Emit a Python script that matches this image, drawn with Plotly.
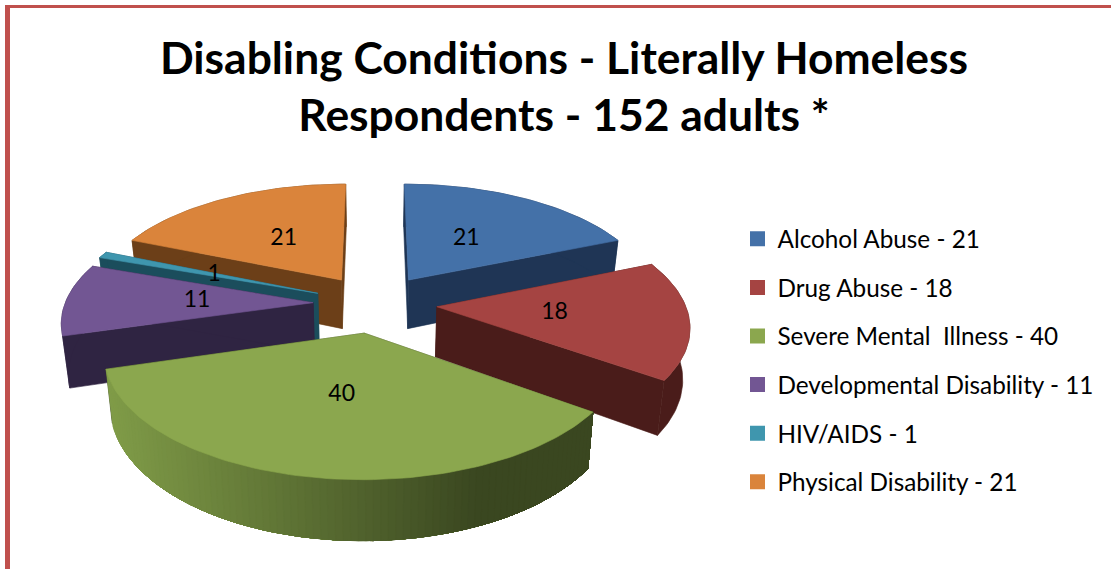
import numpy as np
import plotly.graph_objects as go

categories = ["Alcohol Abuse", "Drug Abuse", "Severe Mental\u00a0 Illness",
              "Developmental Disability", "HIV/AIDS", "Physical Disability"]
values = [21, 18, 40, 11, 1, 21]
top_colors = ["#4471A8", "#A54442", "#8BA74E", "#725693", "#3F96AE", "#DA843B"]
wall_colors = ["#1F3555", "#4A1C1A", "#3A4720", "#2F2442", "#1B4D5C", "#6C3F18"]
title_lines = ["Disabling Conditions - Literally Homeless", "Respondents - 152 adults *"]

# projection of the tilted pie onto the page (pixel-sized axes)
CX, CY = 375.0, 303.5
R, A, K = 248.0, 116.0, 0.144
EXPLODE, DEPTH, SHRINK = 0.25, 50.0, 0.977
LABEL_POS = 0.47
DRAW_ORDER = [5, 0, 4, 3, 1, 2]
GRADIENT_SLICE = 2


def project(U, W, low=False):
    s = 1 / (1 - K * W)
    x = CX + R * U * s
    y = CY + A * W * s
    if low:
        x = CX + (x - CX) * SHRINK
        y = y + DEPTH * s
    return x, y


def hexmix(c1, c2, t):
    a = [int(c1[i:i + 2], 16) for i in (1, 3, 5)]
    b = [int(c2[i:i + 2], 16) for i in (1, 3, 5)]
    return "#" + "".join(f"{int(round(p + (q - p) * t)):02x}" for p, q in zip(a, b))


def poly(xs, ys, color):
    xs, ys = list(xs), list(ys)
    return go.Scatter(x=xs + [xs[0]], y=ys + [ys[0]], mode="lines", fill="toself",
                      fillcolor=color, line=dict(color=color, width=0.6),
                      hoverinfo="skip", showlegend=False)


fig = go.Figure()

for cat, val, col in zip(categories, values, top_colors):
    fig.add_trace(go.Scatter(x=[None], y=[None], mode="markers", name=f"{cat} - {val}",
                             legendgroup=cat, marker=dict(symbol="square", size=15, color=col)))

total = sum(values)
edges = np.concatenate([[0], np.cumsum(values)]) / total * 2 * np.pi
labels = {}

for i in DRAW_ORDER:
    a0, a1 = edges[i], edges[i + 1]
    mid = (a0 + a1) / 2
    eU, eW = EXPLODE * np.sin(mid), -EXPLODE * np.cos(mid)
    th = np.linspace(a0, a1, max(6, int((a1 - a0) * 40)))
    U = eU + np.sin(th)
    W = eW - np.cos(th)
    tx, ty = project(U, W)
    bx, by = project(U, W, low=True)
    tipx, tipy = project(np.array([eU]), np.array([eW]))
    tipbx, tipby = project(np.array([eU]), np.array([eW]), low=True)
    wall = wall_colors[i]
    # flat cut faces
    fig.add_trace(poly([tipx[0], tx[0], bx[0], tipbx[0]], [tipy[0], ty[0], by[0], tipby[0]], wall))
    fig.add_trace(poly([tipx[0], tx[-1], bx[-1], tipbx[0]], [tipy[0], ty[-1], by[-1], tipby[0]], wall))
    # curved outer wall
    if i == GRADIENT_SLICE:
        # overlapping strips, painted left to right so no seams show
        n = len(th)
        for j in range(n - 1, 0, -1):
            t = np.clip((tx[j] - 105) / 370, 0, 1)
            c = hexmix("#809C48", wall, t)
            fig.add_trace(poly(np.r_[tx[:j + 1], bx[:j + 1][::-1]],
                               np.r_[ty[:j + 1], by[:j + 1][::-1]], c))
    else:
        fig.add_trace(poly(np.r_[tx, bx[::-1]], np.r_[ty, by[::-1]], wall))
    # top face
    fig.add_trace(poly(np.r_[tipx, tx], np.r_[tipy, ty], top_colors[i]))
    lx, ly = project(np.array([eU + LABEL_POS * np.sin(mid)]), np.array([eW - LABEL_POS * np.cos(mid)]))
    labels[i] = (lx[0], ly[0])

fig.add_trace(go.Scatter(x=[labels[i][0] for i in range(len(values))],
                         y=[labels[i][1] for i in range(len(values))],
                         text=[str(v) for v in values], mode="text", textposition="middle center",
                         textfont=dict(family="Lato", size=23, color="#000000"),
                         hoverinfo="skip", showlegend=False))

fig.update_layout(
    width=1111, height=569, autosize=False,
    margin=dict(l=0, r=0, t=0, b=0),
    paper_bgcolor="#FFFFFF", plot_bgcolor="#FFFFFF",
    xaxis=dict(range=[0, 1111], visible=False, domain=[0, 1], fixedrange=True),
    yaxis=dict(range=[569, 0], visible=False, domain=[0, 1], fixedrange=True),
    title=dict(text="<br>".join(title_lines), x=564 / 1111, xanchor="center",
               y=1 - 73.5 / 569, yanchor="middle",
               font=dict(family="Lato", size=44.4, color="#000000", weight="bold")),
    legend=dict(x=737.5 / 1111, y=1 - 216.5 / 569, xanchor="left", yanchor="top",
                bgcolor="rgba(0,0,0,0)", font=dict(family="Lato", size=24.3, color="#000000"),
                tracegroupgap=14, itemwidth=30),
    shapes=[
        dict(type="rect", xref="paper", yref="paper", x0=5 / 1111, x1=10 / 1111, y0=0, y1=1 - 5 / 569,
             fillcolor="#C0504D", line_width=0),
        dict(type="rect", xref="paper", yref="paper", x0=5 / 1111, x1=1, y0=1 - 8 / 569, y1=1 - 5 / 569,
             fillcolor="#C0504D", line_width=0),
    ],
)

fig.write_html("out.html", config={"displayModeBar": False},
               post_script="document.body.style.margin='0';document.documentElement.style.overflow='hidden';")
